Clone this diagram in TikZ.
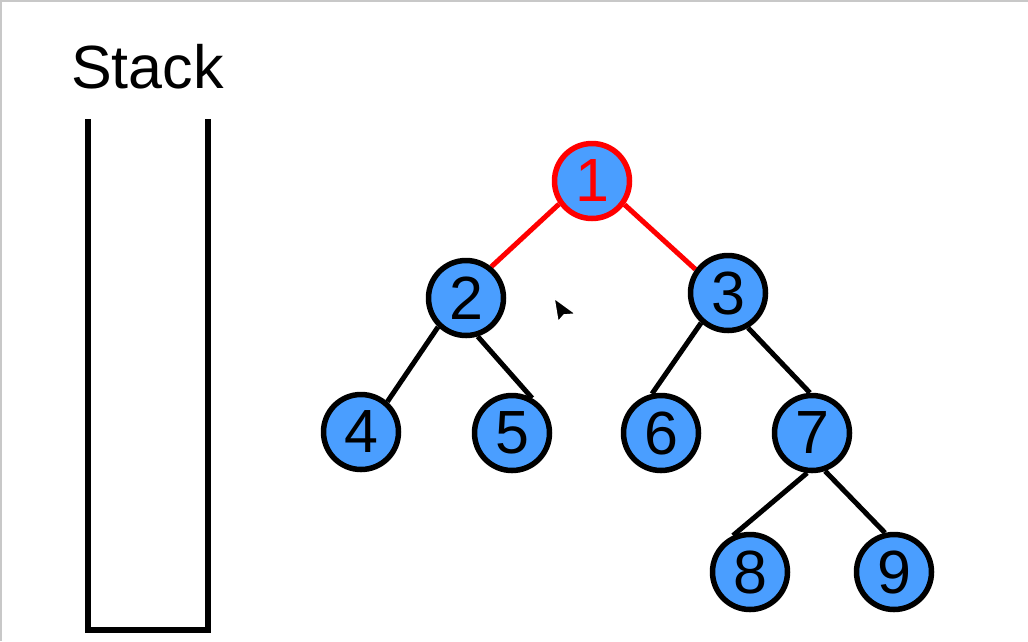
\documentclass[tikz,border=0pt]{standalone}
\usepackage{fontspec}
\setmainfont{Liberation Sans}
\usetikzlibrary{backgrounds}

\definecolor{nodeblue}{RGB}{74,158,255}
\definecolor{framegray}{RGB}{200,200,200}

\tikzset{
  treenode/.style={circle,draw=black,fill=nodeblue,line width=5.5pt,
    minimum size=75pt,inner sep=0pt,font=\fontsize{61}{61}\selectfont},
  visited/.style={draw=red,text=red},
  edge/.style={line width=5pt},
  rededge/.style={line width=5pt,draw=red},
}

\begin{document}
\begin{tikzpicture}[x=1pt,y=1pt]
\useasboundingbox (0,0) rectangle (1028,-641);
\draw[framegray,line width=1.5pt] (0.75,-641) -- (0.75,-0.75) -- (1028,-0.75);

% stack
\node[anchor=base,font=\fontsize{61}{61}\selectfont] (title) at (147.5,-88) {Stack};
\draw[line width=6pt,miter limit=10] (87.5,-119) -- (87.5,-630) -- (207.5,-630) -- (207.5,-119);

% tree
\node[treenode,visited] (n1) at (592,-181) {1};
\node[treenode] (n2) at (466,-298) {2};
\node[treenode] (n3) at (728,-293) {3};
\node[treenode] (n4) at (361,-432) {4};
\node[treenode] (n5) at (512,-433) {5};
\node[treenode] (n6) at (661,-433) {6};
\node[treenode] (n7) at (812,-433) {7};
\node[treenode] (n8) at (750,-572) {8};
\node[treenode] (n9) at (894,-572) {9};

\begin{scope}[on background layer]
\draw[rededge] (n1.-145) -- (n2.51);
\draw[rededge] (n1.-36) -- (n3.144);
\draw[edge] (n2.-134) -- (n4.49);
\draw[edge] (n2.-73) -- (n5.60);
\draw[edge] (n3.-132) -- (n6.103);
\draw[edge] (n3.-60) -- (n7.93);
\draw[edge] (n7.-97) -- (n8.115);
\draw[edge] (n7.-71) -- (n9.103);
\end{scope}

% mouse pointer
\filldraw[fill=black,draw=white,line width=1.5pt,line join=round]
  (554,-298) -- (558,-322) -- (564,-315) -- (576,-314) -- cycle;
\end{tikzpicture}
\end{document}
